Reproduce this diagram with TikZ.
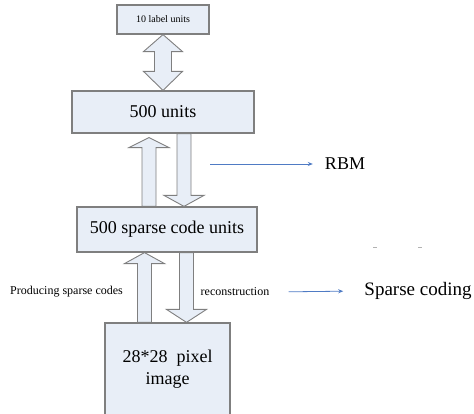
\documentclass[tikz,border=0pt]{standalone}
\usepackage{fontspec}
\setmainfont{Liberation Serif}
\usetikzlibrary{calc,arrows.meta}

\definecolor{boxfill}{HTML}{E8EEF7}
\definecolor{boxline}{HTML}{7F7F7F}
\definecolor{linkblue}{HTML}{4F7BC4}

\tikzset{
  box/.style={draw=boxline,fill=boxfill,line width=1.2pt,inner sep=0pt,align=center},
  fat/.style={draw=boxline,fill=boxfill,line width=0.9pt,line join=miter},
  link/.style={draw=linkblue,line width=0.8pt,-{Stealth[length=5pt,width=4pt]}},
  txt/.style={inner sep=2pt},
}

% hollow block arrow: offset, tail, tip, signed head length
\newcommand{\fatarrow}[4]{%
  \draw[fat] let \p1=(#2), \p2=(#3) in
    ({\x1+#1-7},\y1) -- ({\x1+#1-7},{\y2+#4}) -- ({\x1+#1-20},{\y2+#4}) -- ({\x1+#1},\y2)
    -- ({\x1+#1+20},{\y2+#4}) -- ({\x1+#1+7},{\y2+#4}) -- ({\x1+#1+7},\y1) -- cycle;}

\begin{document}
\begin{tikzpicture}[x=1pt,y=1pt]
\useasboundingbox (0,0) rectangle (474,414);
\clip (0,0) rectangle (474,414);

% layers
\node[box,minimum width=92,minimum height=29,font=\fontsize{10}{12}\selectfont] (label) at (163,394.5) {10 label units};
\node[box,minimum width=182,minimum height=42,font=\fontsize{18}{22}\selectfont] (units) at (163,302) {500 units};
\node[box,minimum width=180,minimum height=45,font=\fontsize{18}{22}\selectfont] (sparse) at (167,184.5) {500 sparse code units};
\node[box,minimum width=125,minimum height=93,font=\fontsize{18}{22}\selectfont] (image) at (167.5,44.5) {28*28\ \ pixel\\image};
\coordinate (unitsgap) at ([yshift=-4]units.south);

% double block arrow between label units and 500 units
\draw[fat] let \p1=(label.south), \p2=(units.north) in
  (\x1,\y1) -- (\x1+19.5,\y1-17) -- (\x1+8.5,\y1-17) -- (\x1+8.5,\y2+19)
  -- (\x1+19.5,\y2+19) -- (\x2,\y2) -- (\x1-19.5,\y2+19) -- (\x1-8.5,\y2+19)
  -- (\x1-8.5,\y1-17) -- (\x1-19.5,\y1-17) -- cycle;

% up and down block arrows
\fatarrow{-18}{sparse.north}{unitsgap}{-10}
\fatarrow{21}{units.south}{sparse.north}{11}
\fatarrow{-23}{image.north}{sparse.south}{-11}
\fatarrow{19.5}{sparse.south}{image.north}{13}

% side labels
\node[txt,font=\fontsize{12}{14}\selectfont] (produce) at (66.5,122) {Producing sparse codes};
\node[txt,font=\fontsize{12}{14}\selectfont] (recon) at (235,122) {reconstruction};
\node[txt,font=\fontsize{19}{22}\selectfont] (sc) at (418,123) {Sparse coding};
\node[txt,font=\fontsize{18}{22}\selectfont] (rbm) at (345,250) {RBM};
\coordinate (rbmfrom) at (210,250);

\draw[link] (rbmfrom) -- ([xshift=-10]rbm.west);
\draw[link,shorten <=17,shorten >=19] (recon.east) -- (sc.west);

% stray marks
\draw[boxline!60,line width=0.8pt] (373,167) -- (377,167) (418,167) -- (422,167);
\end{tikzpicture}
\end{document}
